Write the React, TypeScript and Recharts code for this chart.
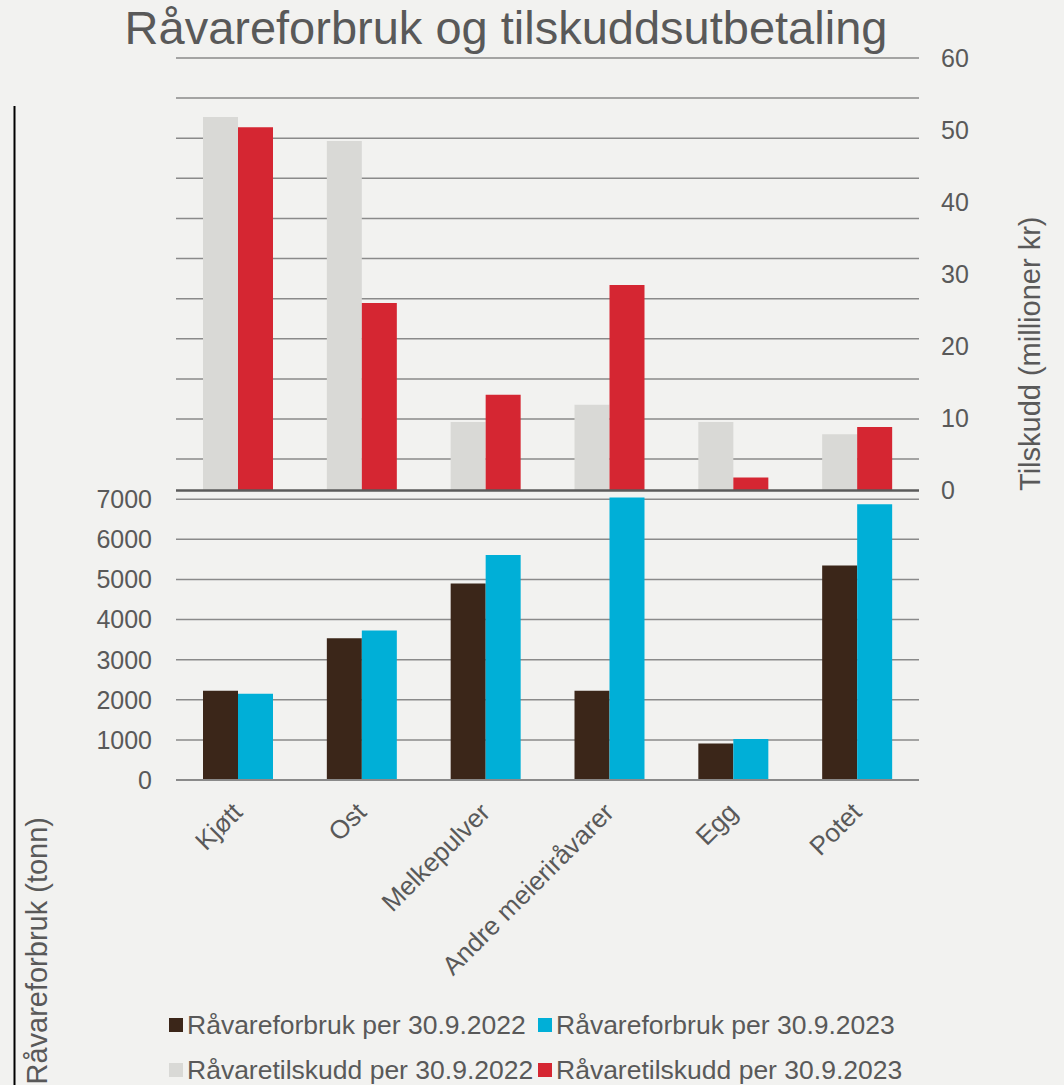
import React from "react";
import { ComposedChart, Bar, XAxis, YAxis, CartesianGrid, ReferenceLine, Legend } from "recharts";

const FONT = '"Liberation Sans", Arial, sans-serif';
const TEXT = "#595959";

const categories = ["Kjøtt", "Ost", "Melkepulver", "Andre meieriråvarer", "Egg", "Potet"];
const forbruk2022 = [2225, 3535, 4900, 2225, 910, 5350];
const forbruk2023 = [2150, 3725, 5610, 7040, 1025, 6875];
const tilskudd2022 = [51.8, 48.5, 9.5, 11.9, 9.5, 7.8];
const tilskudd2023 = [50.4, 26.0, 13.3, 28.5, 1.8, 8.8];

// left grid keeps going up behind the top panel, labels only up to 7000
const leftTicks = [0, 1000, 2000, 3000, 4000, 5000, 6000, 7000, 8000, 9000, 10000, 11000, 12000, 13000, 14000, 15000, 16000, 17000, 18000];
const rightTicks = [0, 10, 20, 30, 40, 50, 60];

const series = [
  { key: "f22", name: "Råvareforbruk per 30.9.2022", color: "#3B2619" },
  { key: "f23", name: "Råvareforbruk per 30.9.2023", color: "#00AFD7" },
  { key: "t22", name: "Råvaretilskudd per 30.9.2022", color: "#D9D9D6" },
  { key: "t23", name: "Råvaretilskudd per 30.9.2023", color: "#D52632" },
];

const data = categories.map((name, i) => ({
  name,
  f22: forbruk2022[i],
  f23: forbruk2023[i],
  t22: tilskudd2022[i],
  t23: tilskudd2023[i],
}));

function CategoryTick(props: any) {
  const { x, y, payload } = props;
  const tx = x + 6;
  const ty = y + 26;
  return (
    <text x={tx} y={ty} transform={`rotate(-45, ${tx}, ${ty})`} textAnchor="end" fill={TEXT} fontSize={26} fontFamily={FONT}>
      {payload.value}
    </text>
  );
}

function renderLegend(props: any) {
  const payload: any[] = props.payload || [];
  const items = series.map((s) => payload.find((p) => p.dataKey === s.key) || { value: s.name, color: s.color });
  return (
    <div
      style={{
        display: "grid",
        gridTemplateColumns: "369px auto",
        rowGap: 15,
        paddingLeft: 169,
        fontFamily: FONT,
        fontSize: 26.5,
        color: TEXT,
        lineHeight: "30px",
      }}
    >
      {items.map((it, i) => (
        <div key={i} style={{ display: "flex", alignItems: "center", whiteSpace: "nowrap" }}>
          <span style={{ width: 14, height: 14, background: it.color, marginRight: 4, display: "inline-block" }} />
          {it.value}
        </div>
      ))}
    </div>
  );
}

export default function App() {
  return (
    <div style={{ position: "absolute", left: 0, top: 0, width: 1064, height: 1085, background: "#F2F2F0", overflow: "hidden" }}>
      <ComposedChart width={1064} height={1085} data={data} margin={{ top: 58, right: 0, bottom: 245, left: 0 }} barGap={0}>
        <CartesianGrid yAxisId="left" xAxisId="a" vertical={false} stroke="#8A8A8A" strokeWidth={1.5} />
        <XAxis
          xAxisId="a"
          dataKey="name"
          height={60}
          tickLine={false}
          axisLine={{ stroke: "#8A8A8A", strokeWidth: 2 }}
          interval={0}
          tick={<CategoryTick />}
        />
        <XAxis xAxisId="b" dataKey="name" hide />
        <YAxis
          yAxisId="left"
          orientation="left"
          width={176}
          domain={[0, 18000]}
          ticks={leftTicks}
          interval={0}
          axisLine={false}
          tickLine={false}
          tickMargin={18}
          tickFormatter={(v: number) => (v <= 7000 ? String(v) : "")}
          tick={{ fill: TEXT, fontSize: 25, fontFamily: FONT }}
        />
        <YAxis
          yAxisId="right"
          orientation="right"
          width={145}
          domain={[-40.16, 60]}
          ticks={rightTicks}
          interval={0}
          axisLine={false}
          tickLine={false}
          tickMargin={16}
          tick={{ fill: TEXT, fontSize: 25, fontFamily: FONT }}
        />
        <Bar xAxisId="a" yAxisId="left" dataKey="f22" name={series[0].name} fill={series[0].color} barSize={35} isAnimationActive={false} />
        <Bar xAxisId="a" yAxisId="left" dataKey="f23" name={series[1].name} fill={series[1].color} barSize={35} isAnimationActive={false} />
        <Bar xAxisId="b" yAxisId="right" dataKey="t22" name={series[2].name} fill={series[2].color} barSize={35} isAnimationActive={false} />
        <Bar xAxisId="b" yAxisId="right" dataKey="t23" name={series[3].name} fill={series[3].color} barSize={35} isAnimationActive={false} />
        <ReferenceLine xAxisId="b" yAxisId="right" y={0} stroke="#5B5B5B" strokeWidth={2.5} />
        <Legend
          verticalAlign="middle"
          align="center"
          layout="horizontal"
          wrapperStyle={{ top: 1010, left: 0, width: 1064 }}
          content={renderLegend}
        />
      </ComposedChart>
      <svg width={1064} height={1085} style={{ position: "absolute", left: 0, top: 0, pointerEvents: "none" }}>
        <text x={506} y={44} textAnchor="middle" fill={TEXT} fontSize={47} fontFamily={FONT}>
          Råvareforbruk og tilskuddsutbetaling
        </text>
        <line x1={14.5} y1={106} x2={14.5} y2={1085} stroke="#000" strokeWidth={2} />
        <text x={47} y={817} transform="rotate(-90, 47, 817)" textAnchor="end" fill={TEXT} fontSize={29} fontFamily={FONT}>
          Råvareforbruk (tonn)
        </text>
        <text x={1040} y={491} transform="rotate(-90, 1040, 491)" textAnchor="start" fill={TEXT} fontSize={29} fontFamily={FONT}>
          Tilskudd (millioner kr)
        </text>
      </svg>
    </div>
  );
}
